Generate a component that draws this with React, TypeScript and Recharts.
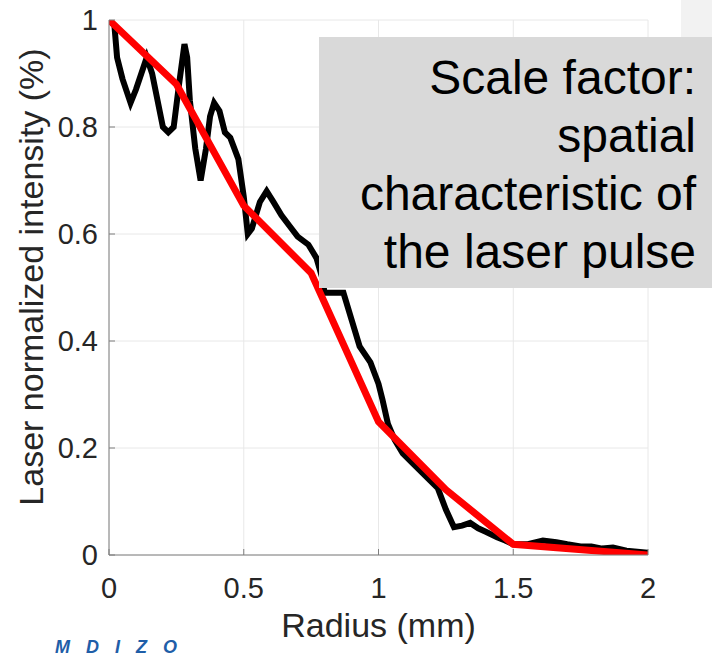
import React from "react";
import { LineChart, Line, XAxis, YAxis, CartesianGrid, Label } from "recharts";

// Measured (noisy) laser intensity profile
const measuredRadius = [
  0.0, 0.02, 0.03, 0.05, 0.08, 0.1, 0.12, 0.14, 0.16, 0.18, 0.2, 0.22, 0.24, 0.26, 0.28, 0.29, 0.3, 0.32,
  0.34, 0.36, 0.375, 0.39, 0.41, 0.43, 0.45, 0.48, 0.5, 0.515, 0.53, 0.56, 0.585, 0.61, 0.64, 0.67, 0.7,
  0.74, 0.77, 0.79, 0.8, 0.87, 0.9, 0.93, 0.97, 1.0, 1.015, 1.035, 1.06, 1.09, 1.13, 1.16, 1.19, 1.22,
  1.25, 1.28, 1.31, 1.34, 1.37, 1.4, 1.44, 1.47, 1.5, 1.55, 1.61, 1.66, 1.7, 1.75, 1.79, 1.83, 1.87,
  1.92, 1.96, 2.0,
];
const measuredIntensity = [
  1.0, 0.99, 0.93, 0.89, 0.845, 0.87, 0.9, 0.93, 0.9, 0.85, 0.8, 0.79, 0.8, 0.88, 0.955, 0.93, 0.85, 0.76,
  0.7, 0.76, 0.82, 0.845, 0.83, 0.79, 0.78, 0.74, 0.67, 0.6, 0.61, 0.66, 0.68, 0.66, 0.635, 0.615, 0.595,
  0.58, 0.555, 0.52, 0.49, 0.49, 0.44, 0.39, 0.36, 0.32, 0.29, 0.245, 0.215, 0.19, 0.17, 0.155, 0.14, 0.125,
  0.085, 0.052, 0.055, 0.06, 0.05, 0.043, 0.033, 0.027, 0.02, 0.02, 0.027, 0.024, 0.02, 0.016, 0.016, 0.012,
  0.014, 0.008, 0.006, 0.004,
];

// Piecewise-linear scale factor (red)
const fitRadius = [0, 0.25, 0.5, 0.75, 1.0, 1.25, 1.5, 2.0];
const fitIntensity = [1.0, 0.88, 0.653, 0.527, 0.249, 0.122, 0.02, 0.0];

const xTicks = [0, 0.5, 1, 1.5, 2];
const yTicks = [0, 0.2, 0.4, 0.6, 0.8, 1];

const measuredData = measuredRadius.map((x, i) => ({ x, y: measuredIntensity[i] }));
const fitData = fitRadius.map((x, i) => ({ x, y: fitIntensity[i] }));

const FONT = '"Liberation Sans", Arial, Helvetica, sans-serif';
const tickStyle = { fontSize: 29, fill: "#262626", fontFamily: FONT };

export default function App() {
  return (
    <div
      style={{
        position: "absolute",
        left: 0,
        top: 0,
        width: 712,
        height: 657,
        overflow: "hidden",
        background: "#ffffff",
        fontFamily: FONT,
      }}
    >
      <LineChart width={712} height={657} margin={{ top: 20, right: 64, left: 0, bottom: 0 }}>
        <CartesianGrid stroke="#e8e8e8" strokeWidth={1} />
        <XAxis
          xAxisId={0}
          type="number"
          dataKey="x"
          domain={[0, 2]}
          ticks={xTicks}
          height={102}
          stroke="#7f7f7f"
          tickSize={-6}
          tickMargin={28}
          tick={tickStyle}
          allowDataOverflow
        >
          <Label
            value="Radius (mm)"
            position="insideBottom"
            offset={20}
            style={{ fontSize: 34, fill: "#262626", fontFamily: FONT }}
          />
        </XAxis>
        <XAxis
          xAxisId="top"
          orientation="top"
          type="number"
          dataKey="x"
          domain={[0, 2]}
          ticks={xTicks}
          height={0}
          stroke="#7f7f7f"
          tickSize={-6}
          tickFormatter={() => ""}
        />
        <YAxis
          yAxisId={0}
          type="number"
          domain={[0, 1]}
          ticks={yTicks}
          width={109}
          stroke="#7f7f7f"
          tickSize={-6}
          tickMargin={17}
          tick={tickStyle}
          allowDataOverflow
        >
          <Label
            content={() => (
              <text
                x={31}
                y={277}
                transform="rotate(-90, 31, 277)"
                textAnchor="middle"
                dominantBaseline="central"
                style={{ fontSize: 34, fill: "#262626", fontFamily: FONT }}
              >
                Laser normalized intensity (%)
              </text>
            )}
          />
        </YAxis>
        <YAxis
          yAxisId="right"
          orientation="right"
          type="number"
          domain={[0, 1]}
          ticks={yTicks}
          width={0}
          stroke="#7f7f7f"
          tickSize={-6}
          tickFormatter={() => ""}
        />
        <Line
          data={measuredData}
          xAxisId={0}
          yAxisId={0}
          dataKey="y"
          type="linear"
          stroke="#000000"
          strokeWidth={6}
          dot={false}
          isAnimationActive={false}
        />
        <Line
          data={fitData}
          xAxisId={0}
          yAxisId={0}
          dataKey="y"
          type="linear"
          stroke="#ff0000"
          strokeWidth={7}
          dot={false}
          isAnimationActive={false}
        />
      </LineChart>
      <div
        style={{
          position: "absolute",
          left: 319,
          top: 37,
          width: 393,
          height: 251,
          background: "#d9d9d9",
          boxSizing: "border-box",
          paddingRight: 16,
          paddingTop: 12,
          textAlign: "right",
          fontSize: 48,
          lineHeight: "58px",
          color: "#000",
          fontFamily: FONT,
        }}
      >
        Scale factor:
        <br />
        spatial
        <br />
        characteristic of
        <br />
        the laser pulse
      </div>
      <div
        style={{
          position: "absolute",
          left: 681,
          top: 0,
          width: 31,
          height: 37,
          background: "#f2f2f2",
        }}
      />
      <div
        style={{
          position: "absolute",
          left: 55,
          top: 639,
          fontSize: 18,
          fontWeight: "bold",
          fontStyle: "italic",
          color: "#1f5ea8",
          lineHeight: "17px",
          fontFamily: FONT,
          letterSpacing: 16,
        }}
      >
        MDIZO
      </div>
    </div>
  );
}
